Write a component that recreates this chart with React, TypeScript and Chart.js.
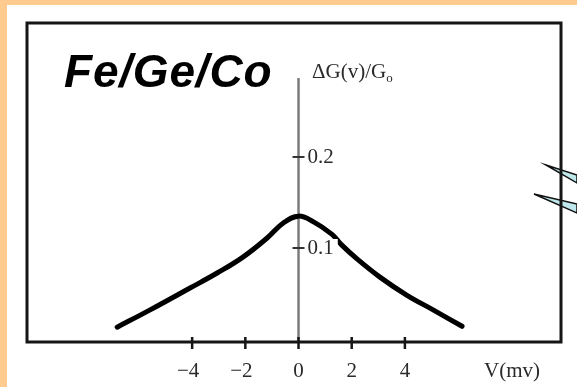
import React, { useEffect, useRef } from "react";
import { Chart, registerables } from "chart.js";

Chart.register(...registerables);

// Differential conductance vs bias voltage for the Fe/Ge/Co junction
const biasMv = [-6.82, -5.58, -4.08, -3.06, -2.09, -1.18, -0.55, 0.0, 0.55, 1.26, 1.6, 2.2, 3.06, 4.08, 5.06, 6.15];
const deltaG = [0.013, 0.032, 0.056, 0.0725, 0.09, 0.111, 0.128, 0.135, 0.129, 0.115, 0.104, 0.088, 0.068, 0.048, 0.032, 0.014];

const xTickValues = [-4, -2, 0, 2, 4];
const xTickLabels = ["\u22124", "\u22122", "0", "2", "4"];
const yTickValues = [0.1, 0.2];
const yTickLabels = ["0.1", "0.2"];

const titleText = "Fe/Ge/Co";
const xAxisTitle = "V(mv)";
const yAxisTitle = "\u0394G(v)/G";
const yAxisSub = "o";

const SERIF = '"Liberation Serif", "Times New Roman", serif';

const axesPlugin = {
  id: "crossAxes",
  beforeDatasetsDraw(chart: any) {
    const { ctx, chartArea, scales } = chart;
    const x0 = scales.x.getPixelForValue(0);
    ctx.save();
    // pointer wedges at the right edge
    const wedges = [
      [[546, 165], [577, 175], [577, 183]],
      [[534, 194], [577, 204], [577, 213]],
    ];
    for (const w of wedges) {
      ctx.beginPath();
      ctx.moveTo(w[0][0], w[0][1]);
      ctx.lineTo(w[1][0], w[1][1]);
      ctx.lineTo(w[2][0], w[2][1]);
      ctx.closePath();
      ctx.fillStyle = "#bfe8ec";
      ctx.fill();
      ctx.lineWidth = 1.5;
      ctx.strokeStyle = "#111";
      ctx.stroke();
    }
    // vertical axis through V = 0
    ctx.strokeStyle = "#7c7c7c";
    ctx.lineWidth = 2.5;
    ctx.beginPath();
    ctx.moveTo(x0, 78);
    ctx.lineTo(x0, chartArea.bottom);
    ctx.stroke();
    // y tick marks
    ctx.strokeStyle = "#333";
    ctx.lineWidth = 2;
    for (const v of yTickValues) {
      const py = scales.y.getPixelForValue(v);
      ctx.beginPath();
      ctx.moveTo(x0 - 6, py);
      ctx.lineTo(x0 + 6, py);
      ctx.stroke();
    }
    ctx.restore();
  },
  afterDatasetsDraw(chart: any) {
    const { ctx, chartArea, scales } = chart;
    const x0 = scales.x.getPixelForValue(0);
    ctx.save();
    // y tick labels on a white ground
    ctx.font = `21px ${SERIF}`;
    ctx.textBaseline = "middle";
    ctx.textAlign = "left";
    yTickValues.forEach((v, i) => {
      const py = scales.y.getPixelForValue(v);
      const w = ctx.measureText(yTickLabels[i]).width;
      ctx.fillStyle = "#fff";
      ctx.fillRect(x0 + 8, py - 9, w + 5, 18);
      ctx.fillStyle = "#2a2a2a";
      ctx.fillText(yTickLabels[i], x0 + 9, py + 1);
    });
    // frame
    ctx.strokeStyle = "#151515";
    ctx.lineWidth = 3;
    ctx.strokeRect(chartArea.left, chartArea.top, chartArea.right - chartArea.left, chartArea.bottom - chartArea.top);
    // x tick marks and labels
    ctx.strokeStyle = "#151515";
    ctx.lineWidth = 2.5;
    ctx.fillStyle = "#2a2a2a";
    ctx.textAlign = "center";
    ctx.textBaseline = "alphabetic";
    xTickValues.forEach((v, i) => {
      const px = scales.x.getPixelForValue(v);
      ctx.beginPath();
      ctx.moveTo(px, chartArea.bottom - 5);
      ctx.lineTo(px, chartArea.bottom + 7);
      ctx.stroke();
      ctx.fillText(xTickLabels[i], px - (v < 0 ? 4 : 0), 377);
    });
    ctx.textAlign = "left";
    ctx.fillText(xAxisTitle, 484, 377);
    // y axis title with subscript
    ctx.fillText(yAxisTitle, 312, 78);
    const tw = ctx.measureText(yAxisTitle).width;
    ctx.font = `13px ${SERIF}`;
    ctx.fillText(yAxisSub, 312 + tw, 82);
    // panel title
    ctx.fillStyle = "#000";
    ctx.font = 'italic bold 46px "Liberation Sans", Arial, sans-serif';
    (ctx as any).letterSpacing = "0.8px";
    ctx.fillText(titleText, 64, 87);
    ctx.restore();
  },
};

export default function App() {
  const canvasRef = useRef<HTMLCanvasElement | null>(null);

  useEffect(() => {
    if (!canvasRef.current) return;
    const chart = new Chart(canvasRef.current, {
      type: "scatter",
      data: {
        datasets: [
          {
            data: biasMv.map((v, i) => ({ x: v, y: deltaG[i] })),
            showLine: true,
            borderColor: "#000",
            borderWidth: 5,
            borderCapStyle: "round",
            borderJoinStyle: "round",
            pointRadius: 0,
            tension: 0.4,
            fill: false,
          },
        ],
      },
      options: {
        animation: false,
        responsive: false,
        layout: { padding: { left: 27, top: 23, right: 16, bottom: 45 } },
        plugins: { legend: { display: false }, tooltip: { enabled: false } },
        scales: {
          x: { type: "linear", min: -10.21, max: 9.87, display: false },
          y: { type: "linear", min: -0.0033, max: 0.3472, display: false },
        },
      },
      plugins: [axesPlugin],
    });
    return () => chart.destroy();
  }, []);

  return (
    <div style={{ position: "fixed", left: 0, top: 0, width: 577, height: 387, background: "#ffcb8e", overflow: "hidden" }}>
      <div style={{ position: "absolute", left: 7, top: 5, right: 0, bottom: 0, background: "#fff" }} />
      <canvas ref={canvasRef} width={577} height={387} style={{ position: "absolute", left: 0, top: 0, width: 577, height: 387 }} />
    </div>
  );
}
